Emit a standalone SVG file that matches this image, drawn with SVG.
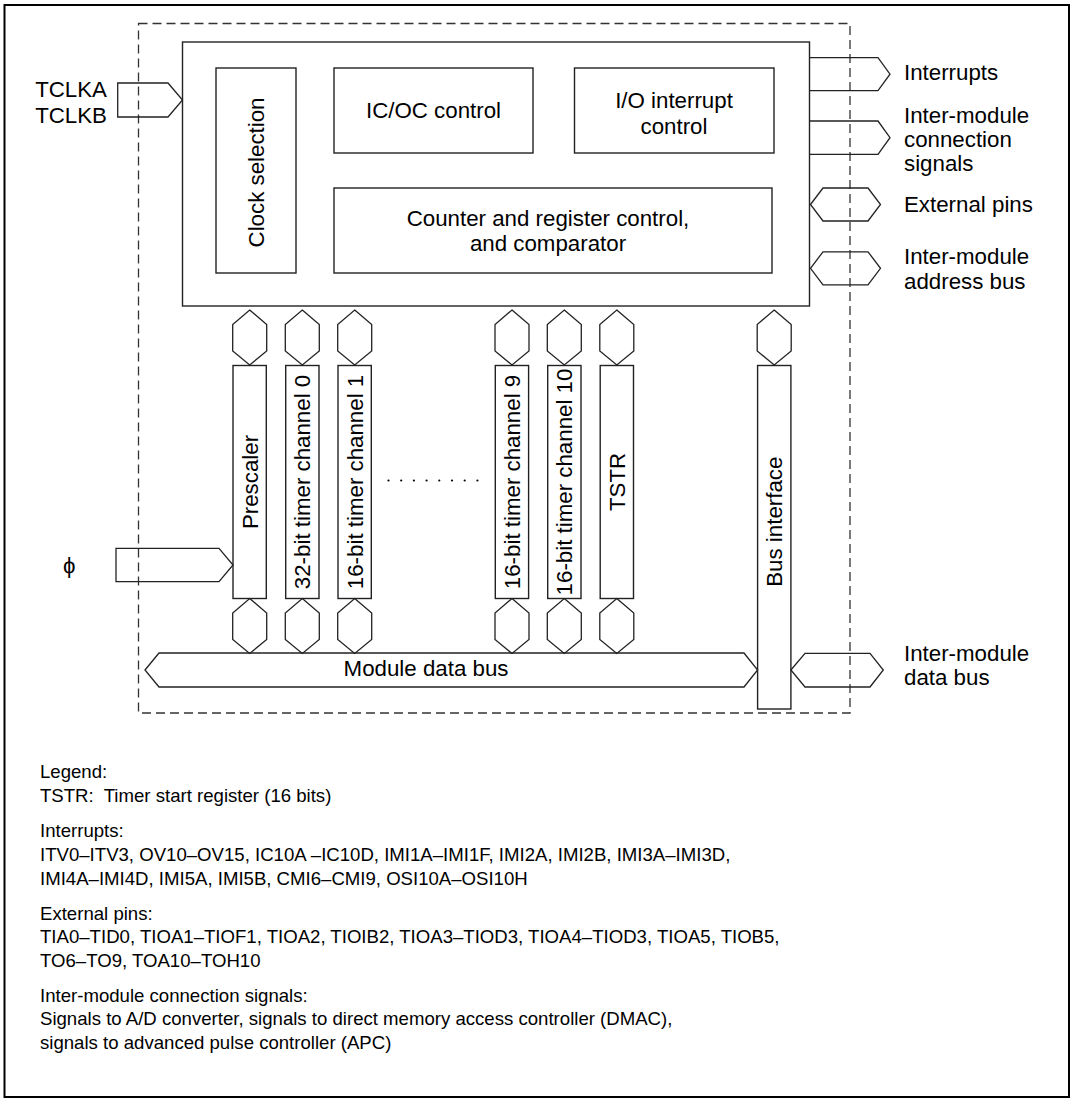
<svg xmlns="http://www.w3.org/2000/svg" width="1075" height="1104" viewBox="0 0 1075 1104">
<style>
.box{fill:none;stroke:#222;stroke-width:1.4}
.bus{fill:none;stroke:#222;stroke-width:1.3}
.t{font-family:"Liberation Sans",Arial,Helvetica,sans-serif;font-size:22.3px;fill:#000}
.l{font-family:"Liberation Sans",Arial,Helvetica,sans-serif;font-size:18.6px;fill:#000}
.m{text-anchor:middle}
.e{text-anchor:end}
</style>
<defs>
<polygon id="vhex" points="0,0 17,14.5 17,41 0,55 -17,41 -17,14.5"/>
<polygon id="hhex" points="0,16.5 12.5,0 57.5,0 70,16.5 57.5,33 12.5,33"/>
</defs>
<rect width="1075" height="1104" fill="#fff"/>
<rect id="frame" x="4.5" y="5" width="1064.5" height="1092" fill="none" stroke="#000" stroke-width="2"/>
<rect id="module-boundary" x="138.5" y="23.5" width="711.5" height="689.5" fill="none" stroke="#333" stroke-width="1.3" stroke-dasharray="9,5"/>

<g id="control-block">
<rect class="box" x="182.5" y="42" width="627" height="264"/>
</g>
<g id="clock-selection">
<rect class="box" x="216" y="68" width="80" height="205"/>
<text class="t m" transform="translate(264,172.5) rotate(-90)">Clock selection</text>
</g>
<g id="icoc-control">
<rect class="box" x="334" y="68" width="199" height="85"/>
<text class="t m" x="433.5" y="118">IC/OC control</text>
</g>
<g id="io-interrupt-control">
<rect class="box" x="574.5" y="68" width="199.5" height="85"/>
<text class="t m" x="674" y="107.5">I/O interrupt</text>
<text class="t m" x="674" y="134">control</text>
</g>
<g id="counter-register-control">
<rect class="box" x="334" y="188" width="438" height="85"/>
<text class="t m" x="548" y="226">Counter and register control,</text>
<text class="t m" x="548" y="251">and comparator</text>
</g>

<g id="prescaler">
<rect class="box" x="233" y="365.5" width="33.3" height="233"/>
<text class="t m" transform="translate(257.7,482) rotate(-90)">Prescaler</text>
</g>
<g id="timer-ch0">
<rect class="box" x="285.7" y="365.5" width="33.3" height="233"/>
<text class="t m" transform="translate(310.3,482) rotate(-90)">32-bit timer channel 0</text>
</g>
<g id="timer-ch1">
<rect class="box" x="338" y="365.5" width="33.3" height="233"/>
<text class="t m" transform="translate(362.7,482) rotate(-90)">16-bit timer channel 1</text>
</g>
<g id="ellipsis">
<circle cx="388.5" cy="480.5" r="1.1"/><circle cx="401.2" cy="480.5" r="1.1"/><circle cx="413.9" cy="480.5" r="1.1"/><circle cx="426.6" cy="480.5" r="1.1"/><circle cx="439.3" cy="480.5" r="1.1"/><circle cx="452" cy="480.5" r="1.1"/><circle cx="464.7" cy="480.5" r="1.1"/><circle cx="477.4" cy="480.5" r="1.1"/>
</g>
<g id="timer-ch9">
<rect class="box" x="495.3" y="365.5" width="33.3" height="233"/>
<text class="t m" transform="translate(520,482) rotate(-90)">16-bit timer channel 9</text>
</g>
<g id="timer-ch10">
<rect class="box" x="547.7" y="365.5" width="33.3" height="233"/>
<text class="t m" transform="translate(572.3,482) rotate(-90)">16-bit timer channel 10</text>
</g>
<g id="tstr">
<rect class="box" x="600.2" y="365.5" width="33.3" height="233"/>
<text class="t m" transform="translate(624.8,482) rotate(-90)">TSTR</text>
</g>
<g id="bus-interface">
<rect class="box" x="757.6" y="365.5" width="33.3" height="343.5"/>
<text class="t m" transform="translate(782.2,521.7) rotate(-90)">Bus interface</text>
</g>

<g id="module-data-bus">
<polygon class="bus" points="145,670 159,653 744,653 757.6,670 744,687 159,687"/>
<text class="t m" x="426" y="675.5">Module data bus</text>
</g>

<g id="connectors">
<polygon class="bus" points="117.7,83 168,83 182.5,100 168,117 117.7,117"/>
<polygon class="bus" points="116,548.3 219,548.3 233,565 219,581.7 116,581.7"/>
<path class="bus" d="M809.5,57.7 H878 L890,74.2 L878,90.7 H809.5"/>
<path class="bus" d="M809.5,121 H878 L890,137.7 L878,154.3 H809.5"/>
<use href="#hhex" class="bus" x="810.5" y="188"/>
<use href="#hhex" class="bus" x="810.5" y="251.8"/>
<polygon class="bus" points="790.9,670 805,653.3 870,653.3 883.3,670 870,687 805,687"/>
<use href="#vhex" class="bus" x="249.7" y="310"/>
<use href="#vhex" class="bus" x="302.3" y="310"/>
<use href="#vhex" class="bus" x="354.7" y="310"/>
<use href="#vhex" class="bus" x="512" y="310"/>
<use href="#vhex" class="bus" x="564.3" y="310"/>
<use href="#vhex" class="bus" x="616.8" y="310"/>
<use href="#vhex" class="bus" x="774.2" y="310"/>
<use href="#vhex" class="bus" x="249.7" y="598.5"/>
<use href="#vhex" class="bus" x="302.3" y="598.5"/>
<use href="#vhex" class="bus" x="354.7" y="598.5"/>
<use href="#vhex" class="bus" x="512" y="598.5"/>
<use href="#vhex" class="bus" x="564.3" y="598.5"/>
<use href="#vhex" class="bus" x="616.8" y="598.5"/>
</g>

<g id="signal-labels">
<text class="t e" x="107" y="96.7">TCLKA</text>
<text class="t e" x="107" y="122.7">TCLKB</text>
<text class="t" x="63" y="573">ϕ</text>
<text class="t" x="904" y="80">Interrupts</text>
<text class="t" x="904" y="122.5">Inter-module</text>
<text class="t" x="904" y="146.5">connection</text>
<text class="t" x="904" y="170.5">signals</text>
<text class="t" x="904" y="212">External pins</text>
<text class="t" x="904" y="264">Inter-module</text>
<text class="t" x="904" y="288.5">address bus</text>
<text class="t" x="904" y="660.5">Inter-module</text>
<text class="t" x="904" y="685">data bus</text>
</g>

<g id="legend">
<text class="l" x="40" y="778">Legend:</text>
<text class="l" x="40" y="802" xml:space="preserve">TSTR:  Timer start register (16 bits)</text>
<text class="l" x="40" y="837">Interrupts:</text>
<text class="l" x="40" y="861">ITV0–ITV3, OV10–OV15, IC10A –IC10D, IMI1A–IMI1F, IMI2A, IMI2B, IMI3A–IMI3D,</text>
<text class="l" x="40" y="884.5">IMI4A–IMI4D, IMI5A, IMI5B, CMI6–CMI9, OSI10A–OSI10H</text>
<text class="l" x="40" y="919.5">External pins:</text>
<text class="l" x="40" y="943">TIA0–TID0, TIOA1–TIOF1, TIOA2, TIOIB2, TIOA3–TIOD3, TIOA4–TIOD3, TIOA5, TIOB5,</text>
<text class="l" x="40" y="966.5">TO6–TO9, TOA10–TOH10</text>
<text class="l" x="40" y="1001.5">Inter-module connection signals:</text>
<text class="l" x="40" y="1025">Signals to A/D converter, signals to direct memory access controller (DMAC),</text>
<text class="l" x="40" y="1048.5">signals to advanced pulse controller (APC)</text>
</g>
</svg>
